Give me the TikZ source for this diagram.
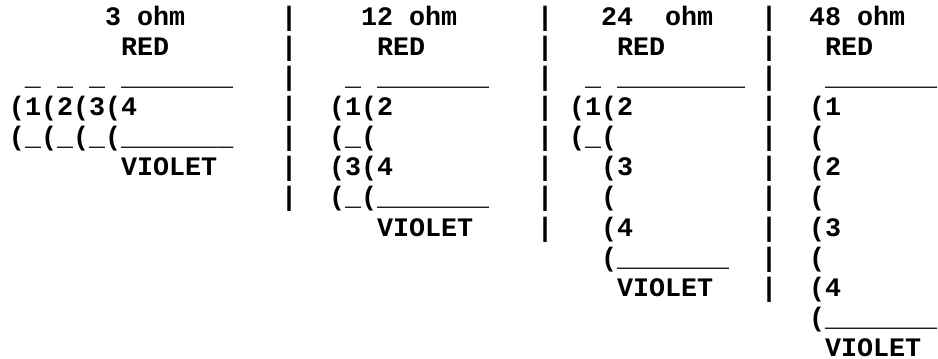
\documentclass[tikz,border=0pt]{standalone}
\usepackage{fontspec}
\setmonofont{Liberation Mono}

\def\cw{16}
\def\lh{30.15}
\def\xo{9}
\def\yo{25}

\begin{document}
\begin{tikzpicture}[x=0.5pt,y=-0.5pt,
    txt/.style={anchor=base west,inner sep=0pt,outer sep=0pt,text depth=0pt,
        font=\ttfamily\bfseries\fontsize{13.35}{15}\selectfont}]
        \useasboundingbox (0,0) rectangle (938,359);
        % separators
        \foreach \r in {0,...,6} \node[txt] (sepa\r) at ({\xo+17*\cw},{\yo+\r*\lh}) {\textbar};
        \foreach \r in {0,...,7} \node[txt] (sepb\r) at ({\xo+33*\cw},{\yo+\r*\lh}) {\textbar};
        \foreach \r in {0,...,9} \node[txt] (sepc\r) at ({\xo+47*\cw},{\yo+\r*\lh}) {\textbar};
        % 3 ohm
        \node[txt] (ohma) at ({\xo+6*\cw},{\yo}) {3~ohm};
        \node[txt] (reda) at ({\xo+7*\cw},{\yo+\lh}) {RED};
        \node[txt] (topa) at ({\xo+1*\cw},{\yo+2*\lh}) {\_~\_~\_~\_\_\_\_\_\_\_};
        \node[txt] (numa) at ({\xo},{\yo+3*\lh}) {(1(2(3(4};
        \node[txt] (bota) at ({\xo},{\yo+4*\lh}) {(\_(\_(\_(\_\_\_\_\_\_\_};
        \node[txt] (vioa) at ({\xo+7*\cw},{\yo+5*\lh}) {VIOLET};
        % 12 ohm
        \node[txt] (ohmb) at ({\xo+22*\cw},{\yo}) {12~ohm};
        \node[txt] (redb) at ({\xo+23*\cw},{\yo+\lh}) {RED};
        \node[txt] (topb) at ({\xo+21*\cw},{\yo+2*\lh}) {\_~\_\_\_\_\_\_\_};
        \node[txt] (numb) at ({\xo+20*\cw},{\yo+3*\lh}) {(1(2};
        \node[txt] (midb) at ({\xo+20*\cw},{\yo+4*\lh}) {(\_(};
        \node[txt] (numbb) at ({\xo+20*\cw},{\yo+5*\lh}) {(3(4};
        \node[txt] (botb) at ({\xo+20*\cw},{\yo+6*\lh}) {(\_(\_\_\_\_\_\_\_};
        \node[txt] (viob) at ({\xo+23*\cw},{\yo+7*\lh}) {VIOLET};
        % 24 ohm
        \node[txt] (ohmc) at ({\xo+37*\cw},{\yo}) {24~~ohm};
        \node[txt] (redc) at ({\xo+38*\cw},{\yo+\lh}) {RED};
        \node[txt] (topc) at ({\xo+36*\cw},{\yo+2*\lh}) {\_~\_\_\_\_\_\_\_\_};
        \node[txt] (numc) at ({\xo+35*\cw},{\yo+3*\lh}) {(1(2};
        \node[txt] (midc) at ({\xo+35*\cw},{\yo+4*\lh}) {(\_(};
        \node[txt] (thrc) at ({\xo+37*\cw},{\yo+5*\lh}) {(3};
        \node[txt] (parc) at ({\xo+37*\cw},{\yo+6*\lh}) {(};
        \node[txt] (forc) at ({\xo+37*\cw},{\yo+7*\lh}) {(4};
        \node[txt] (botc) at ({\xo+37*\cw},{\yo+8*\lh}) {(\_\_\_\_\_\_\_};
        \node[txt] (vioc) at ({\xo+38*\cw},{\yo+9*\lh}) {VIOLET};
        % 48 ohm
        \node[txt] (ohmd) at ({\xo+50*\cw},{\yo}) {48~ohm};
        \node[txt] (redd) at ({\xo+51*\cw},{\yo+\lh}) {RED};
        \node[txt] (topd) at ({\xo+51*\cw},{\yo+2*\lh}) {\_\_\_\_\_\_\_};
        \foreach \n/\r in {1/3,2/5,3/7,4/9} {
            \node[txt] (numd\n) at ({\xo+50*\cw},{\yo+\r*\lh}) {(\n};
            \node[txt] (pard\n) at ({\xo+50*\cw},{\yo+(\r+1)*\lh}) {(};
        }
        \node[txt] (botd) at ({\xo+51*\cw},{\yo+10*\lh}) {\_\_\_\_\_\_\_};
        \node[txt] (viod) at ({\xo+51*\cw},{\yo+11*\lh}) {VIOLET};
    \end{tikzpicture}
\end{document}
